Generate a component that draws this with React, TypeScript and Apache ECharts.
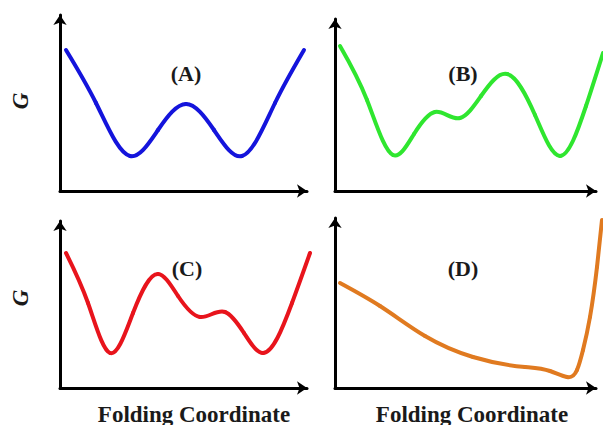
import React, { useEffect, useRef } from "react";
import * as echarts from "echarts";

// Curve samples: [folding coordinate, G] in arbitrary units
const curveA: [number, number][] = [
  [6, 141], [36, 88], [70, 35], [98, 61], [126, 87], [154, 61], [182, 35], [215, 88], [244, 141],
];
const curveB: [number, number][] = [
  [5, 145], [32, 91], [58, 36], [79, 57], [100, 79], [125, 73], [146, 95], [172, 117],
  [200, 76], [225, 35], [251, 85], [268, 138],
];
const curveC: [number, number][] = [
  [6, 135], [28, 85], [50, 35], [73, 75], [98, 114], [118, 92], [140, 71], [165, 76],
  [184, 55], [203, 35], [232, 85], [250, 135],
];
const curveD: [number, number][] = [
  [5, 105], [45, 82], [90, 52], [138, 31], [190, 21], [215, 17], [232, 11], [242, 18],
  [248, 38], [255, 71], [262, 121], [267, 168],
];

const panelLabels = ["(A)", "(B)", "(C)", "(D)"];
const yAxisTitle = "G";
const xAxisTitle = "Folding Coordinate";
const curveColors = ["#1414dc", "#2fe62f", "#e8141c", "#e07a20"];

// Slopes of a natural cubic spline through the points (a smooth curve like line smoothing)
function splineSlopes(pts: [number, number][]): number[] {
  const n = pts.length;
  const h: number[] = [];
  for (let i = 0; i < n - 1; i++) h.push(pts[i + 1][0] - pts[i][0]);
  const a = new Array(n).fill(0);
  const b = new Array(n).fill(1);
  const c = new Array(n).fill(0);
  const d = new Array(n).fill(0);
  for (let i = 1; i < n - 1; i++) {
    a[i] = h[i - 1] / 6;
    b[i] = (h[i - 1] + h[i]) / 3;
    c[i] = h[i] / 6;
    d[i] =
      (pts[i + 1][1] - pts[i][1]) / h[i] - (pts[i][1] - pts[i - 1][1]) / h[i - 1];
  }
  const cp = new Array(n).fill(0);
  const dp = new Array(n).fill(0);
  cp[0] = c[0] / b[0];
  dp[0] = d[0] / b[0];
  for (let i = 1; i < n; i++) {
    const m = b[i] - a[i] * cp[i - 1];
    cp[i] = c[i] / m;
    dp[i] = (d[i] - a[i] * dp[i - 1]) / m;
  }
  const M = new Array(n).fill(0);
  M[n - 1] = dp[n - 1];
  for (let i = n - 2; i >= 0; i--) M[i] = dp[i] - cp[i] * M[i + 1];
  const s: number[] = [];
  for (let i = 0; i < n - 1; i++) {
    s.push((pts[i + 1][1] - pts[i][1]) / h[i] - (h[i] * (2 * M[i] + M[i + 1])) / 6);
  }
  const k = n - 2;
  s.push((pts[k + 1][1] - pts[k][1]) / h[k] + (h[k] * (M[k] + 2 * M[k + 1])) / 6);
  return s;
}

export default function App() {
  const ref = useRef<HTMLDivElement>(null);
  useEffect(() => {
    if (!ref.current) return;
    const chart = echarts.init(ref.current, undefined, { renderer: "svg" });
    const grids = [
      { left: 60, top: 15, width: 247, height: 176 },
      { left: 335, top: 19, width: 261, height: 172 },
      { left: 60, top: 221, width: 247, height: 167 },
      { left: 335, top: 218, width: 261, height: 170 },
    ];
    const curves = [curveA, curveB, curveC, curveD];
    const axisLine = {
      show: true,
      onZero: false,
      symbol: ["none", "arrow"],
      symbolSize: [10, 10],
      lineStyle: { color: "#000", width: 3 },
    };
    const hidden = {
      axisTick: { show: false },
      axisLabel: { show: false },
      splitLine: { show: false },
    };
    const serif = "'Liberation Serif', 'Times New Roman', serif";
    chart.setOption({
      animation: false,
      backgroundColor: "#fff",
      grid: grids.map((g) => ({ ...g, containLabel: false })),
      xAxis: grids.map((g, i) => ({
        type: "value",
        gridIndex: i,
        min: 0,
        max: g.width,
        axisLine,
        ...hidden,
      })),
      yAxis: grids.map((g, i) => ({
        type: "value",
        gridIndex: i,
        min: 0,
        max: g.height,
        axisLine,
        ...hidden,
      })),
      series: curves.map((pts, i) => {
        const slopes = splineSlopes(pts);
        return {
          type: "custom",
          xAxisIndex: i,
          yAxisIndex: i,
          data: pts,
          encode: { x: 0, y: 1 },
          clip: false,
          silent: true,
          renderItem: (params: any, api: any) => {
            const k = params.dataIndex;
            if (k >= pts.length - 1) return null;
            const [x0, y0] = pts[k];
            const [x1, y1] = pts[k + 1];
            const hh = (x1 - x0) / 3;
            const p0 = api.coord([x0, y0]);
            const c0 = api.coord([x0 + hh, y0 + slopes[k] * hh]);
            const c1 = api.coord([x1 - hh, y1 - slopes[k + 1] * hh]);
            const p1 = api.coord([x1, y1]);
            return {
              type: "bezierCurve",
              shape: {
                x1: p0[0], y1: p0[1],
                cpx1: c0[0], cpy1: c0[1],
                cpx2: c1[0], cpy2: c1[1],
                x2: p1[0], y2: p1[1],
              },
              style: {
                stroke: curveColors[i],
                lineWidth: 4,
                fill: null,
                lineCap: "round",
              },
            };
          },
        };
      }),
      graphic: [
        ...panelLabels.map((t, i) => ({
          type: "text",
          x: [186, 463, 187, 463][i],
          y: [73, 73, 268, 268][i],
          style: {
            text: t,
            fill: "#1a1a1a",
            font: `bold 22px ${serif}`,
            textAlign: "center",
            textVerticalAlign: "middle",
          },
        })),
        ...[101, 298].map((y) => ({
          type: "text",
          x: 20,
          y,
          rotation: Math.PI / 2,
          style: {
            text: yAxisTitle,
            fill: "#1a1a1a",
            font: `italic bold 23px ${serif}`,
            textAlign: "center",
            textVerticalAlign: "middle",
          },
        })),
        ...[194, 472].map((x) => ({
          type: "text",
          x,
          y: 414,
          style: {
            text: xAxisTitle,
            fill: "#1a1a1a",
            font: `bold 23px ${serif}`,
            textAlign: "center",
            textVerticalAlign: "middle",
          },
        })),
      ],
    });
    return () => chart.dispose();
  }, []);
  return (
    <div
      ref={ref}
      style={{ position: "fixed", left: 0, top: 0, width: 603, height: 425 }}
    />
  );
}
